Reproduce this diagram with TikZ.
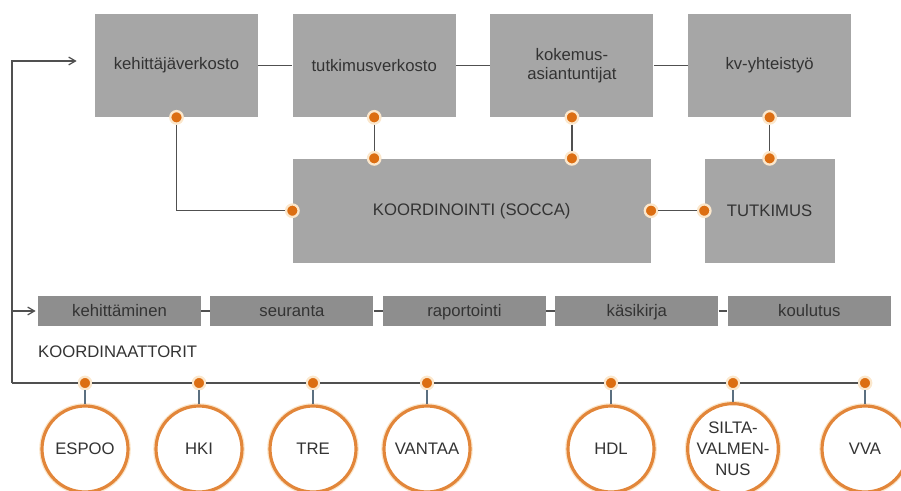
\documentclass[tikz,border=0pt]{standalone}
\usepackage{fontspec}
\setmainfont{Liberation Sans}
\usetikzlibrary{arrows, positioning, calc}
\definecolor{boxgrey}{HTML}{A6A6A6}
\definecolor{bargrey}{HTML}{8E8E8E}
\definecolor{textgrey}{HTML}{333333}
\definecolor{linegrey}{HTML}{505050}
\definecolor{stemgrey}{HTML}{5B6F80}
\definecolor{dotorange}{HTML}{DC6E12}
\definecolor{ringorange}{HTML}{E2863A}
\definecolor{halo}{HTML}{FBE7CC}
\tikzstyle{link} = [draw=linegrey, line width=0.7pt, >=angle 60]
\tikzstyle{stem} = [draw=stemgrey, line width=0.8pt]
\tikzstyle{component} = [rectangle, minimum width=3.26cm, minimum height=2.06cm, text centered, align=center, fill=boxgrey, text=textgrey, font=\fontsize{9.5}{11}\selectfont]
\tikzstyle{task} = [rectangle, minimum width=3.26cm, minimum height=0.6cm, text height=1.6ex, text depth=0.4ex, text centered, fill=bargrey, text=textgrey, font=\fontsize{9.5}{11}\selectfont]
\tikzstyle{joint} = [circle, inner sep=0pt, minimum size=0.25cm, fill=dotorange, draw=halo, line width=1.3pt]
\tikzstyle{city} = [circle, inner sep=0pt, minimum size=1.72cm, align=center, fill=white, draw=ringorange, line width=1.8pt, preaction={draw=halo, line width=3.2pt}, text=textgrey, font=\fontsize{9.5}{12}\selectfont]

\begin{document}
\begin{tikzpicture}[node distance=0.68cm]
    \useasboundingbox (0,0) rectangle (18.02,-9.82);

    % Networks
    \node[component] (dev) at (3.53,-1.31) {kehittäjäverkosto};
    \node[component, right=of dev] (res) {tutkimusverkosto};
    \node[component, right=of res] (exp) {kokemus-\\asiantuntijat};
    \node[component, right=of exp] (intl) {kv-yhteistyö};
    \draw[link] (dev) -- (res) -- (exp) -- (intl);

    % Coordination and research
    \node[component, minimum width=7.16cm, minimum height=2.08cm, below right=0.82cm and 0cm of res.south west] (coord) {KOORDINOINTI (SOCCA)};
    \node[component, minimum width=2.6cm, minimum height=2.08cm, below=0.82cm of intl] (study) {TUTKIMUS};

    % Joints
    \node[joint] (j1) at (dev.south) {};
    \node[joint] (j2) at (res.south) {};
    \node[joint] (j3) at (exp.south) {};
    \node[joint] (j4) at (intl.south) {};
    \node[joint] (k2) at (coord.north -| res.south) {};
    \node[joint] (k3) at (coord.north -| exp.south) {};
    \node[joint] (k4) at (study.north) {};
    \node[joint] (kw) at (coord.west) {};
    \node[joint] (ke) at (coord.east) {};
    \node[joint] (sw) at (study.west) {};
    \draw[link] (j1) |- (kw);
    \draw[link] (j2) -- (k2);
    \draw[link] (j3) -- (k3);
    \draw[link] (j4) -- (k4);
    \draw[link] (ke) -- (sw);

    % Tasks
    \node[task] (t1) at (2.39,-6.22) {kehittäminen};
    \node[task, right=0.175cm of t1] (t2) {seuranta};
    \node[task, right=0.175cm of t2] (t3) {raportointi};
    \node[task, right=0.175cm of t3] (t4) {käsikirja};
    \node[task, right=0.175cm of t4] (t5) {koulutus};
    \draw[link] (t1) -- (t2) -- (t3) -- (t4) -- (t5);

    \node[anchor=west, text=textgrey, font=\fontsize{9.5}{11}\selectfont] (coordinators) at (0.64,-7.04) {KOORDINAATTORIT};

    % Coordinators
    \coordinate (corner) at (0.24,-7.66);
    \foreach \x/\name/\label in {1.70/espoo/ESPOO, 3.98/hki/HKI, 6.26/tre/TRE, 8.54/vantaa/VANTAA, 12.22/hdl/HDL, 14.66/silta/{SILTA-\\VALMEN-\\NUS}, 17.30/vva/VVA} {
        \node[joint] (p-\name) at (\x,-7.66) {};
        \node[city] (\name) at (\x,-8.98) {\label};
        \draw[stem] (p-\name) -- (\name);
    }
    \draw[link] (corner) -- (p-espoo) -- (p-hki) -- (p-tre) -- (p-vantaa) -- (p-hdl) -- (p-silta) -- (p-vva);
    \draw[link, ->, shorten >=0.36cm] (corner) |- ([yshift=0.09cm]dev.west);
    \draw[link, ->, shorten >=0.04cm] (corner |- t1.west) -- (t1.west);
\end{tikzpicture}
\end{document}
